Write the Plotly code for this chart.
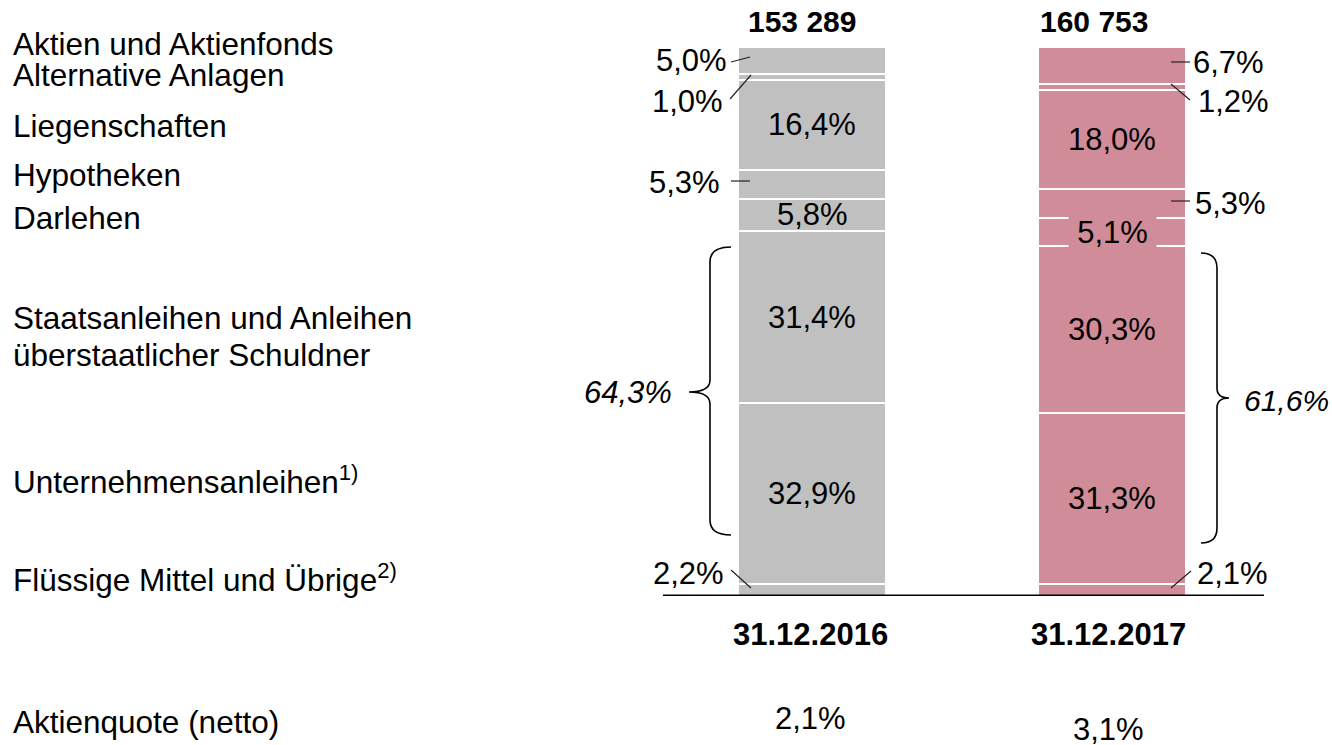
import plotly.graph_objects as go

# ---------------- data ----------------
categories = ["31.12.2016", "31.12.2017"]
segments = ["Flüssige Mittel und Übrige", "Unternehmensanleihen", "Staatsanleihen",
            "Darlehen", "Hypotheken", "Liegenschaften", "Alternative Anlagen",
            "Aktien und Aktienfonds"]
values_2016 = [2.2, 32.9, 31.4, 5.8, 5.3, 16.4, 1.0, 5.0]
values_2017 = [2.1, 31.3, 30.3, 5.1, 5.3, 18.0, 1.2, 6.7]
totals = ["153 289", "160 753"]
bond_share = ["64,3%", "61,6%"]
aktienquote = ["2,1%", "3,1%"]
left_labels = ["Aktien und Aktienfonds", "Alternative Anlagen", "Liegenschaften",
               "Hypotheken", "Darlehen", "Staatsanleihen und Anleihen",
               "überstaatlicher Schuldner", "Unternehmensanleihen<sup>1)</sup>",
               "Flüssige Mittel und Übrige<sup>2)</sup>", "Aktienquote (netto)"]

# ---------------- style ----------------
W, H = 1332, 745
GRAY = "#C0C0C0"
PINK = "#D08C99"
FONT = "Liberation Sans, Arial, sans-serif"
FS = 31
inside = [False, True, True, True, False, True, False, False]


def X(px):
    return px / W


def Y(py):
    return 1 - py / H


def fmt(v):
    return f"{v:.1f}".replace(".", ",") + "%"


fig = go.Figure()
for i, name in enumerate(segments):
    fig.add_trace(go.Bar(
        x=categories, y=[values_2016[i], values_2017[i]], name=name,
        marker=dict(color=[GRAY, PINK], line=dict(color="white", width=2)),
        showlegend=False, hoverinfo="skip"))

ann = []
shapes = []


def txt(x, y, text, size=FS, xanchor="center", xref="paper", yref="paper", **kw):
    d = dict(x=x, y=y, xref=xref, yref=yref, text=text, xanchor=xanchor, yanchor="middle",
             showarrow=False, font=dict(size=size, color="black", family=FONT))
    d.update(kw)
    ann.append(d)


# inside labels (centered in segment)
for vals, cat, col in [(values_2016, categories[0], GRAY), (values_2017, categories[1], PINK)]:
    base = 0
    for i, v in enumerate(vals):
        if inside[i]:
            extra = dict(bgcolor=col, width=85, height=32) if v < 5.5 else {}
            txt(cat, base + v / 2, fmt(v), xref="x", yref="y", **extra)
        base += v

# outside labels with leader lines: segment index -> (text pixel pos, line px)
outside_2016 = {7: ((729, 61), ((731, 62), (750, 57))),
                6: ((725, 101), ((730, 99), (751, 75))),
                4: ((722, 182), ((731, 181), (750, 181))),
                0: ((726, 573), ((731, 570), (751, 588)))}
outside_2017 = {7: ((1191, 62), ((1171, 62), (1190, 62))),
                6: ((1196, 102), ((1171, 84), (1190, 100))),
                4: ((1193, 203), ((1171, 201), (1190, 201))),
                0: ((1195, 573), ((1191, 571), (1171, 588)))}
for vals, table, xanchor in [(values_2016, outside_2016, "right"), (values_2017, outside_2017, "left")]:
    for i, ((tx, ty), ((x0, y0), (x1, y1))) in table.items():
        txt(X(tx), Y(ty), fmt(vals[i]), xanchor=xanchor)
        shapes.append(dict(type="line", xref="paper", yref="paper",
                           x0=X(x0), y0=Y(y0), x1=X(x1), y1=Y(y1),
                           line=dict(color="#222222", width=1.2)))

# totals on top
for t, cx in zip(totals, [802, 1094]):
    txt(X(cx), Y(21), f"<b>{t}</b>", size=30)

# category labels below
for c, cx in zip(categories, [810, 1108]):
    txt(X(cx), Y(634), f"<b>{c}</b>")

# Aktienquote values
for q, (cx, cy) in zip(aktienquote, [(810, 718), (1108, 729)]):
    txt(X(cx), Y(cy), q)

# left labels
left_y = [44, 75, 126, 175, 218, 318, 355, 480, 578, 722]
for t, ly in zip(left_labels, left_y):
    txt(X(11), Y(ly), t, size=31.5, xanchor="left")

# bond share labels (italic)
txt(X(674), Y(392), f"<i>{bond_share[0]}</i>", xanchor="right")
txt(X(1242), Y(400), f"<i>{bond_share[1]}</i>", size=30, xanchor="left")


def P(x, y):
    return f"{X(x):.5f},{Y(y):.5f}"


# braces
left_brace = (f"M {P(731,247)} Q {P(710,247)} {P(710,262)} L {P(710,380)} "
              f"Q {P(710,392)} {P(689,392)} Q {P(710,392)} {P(710,404)} "
              f"L {P(710,520)} Q {P(710,535)} {P(731,535)}")
right_brace = (f"M {P(1201,253)} Q {P(1217,253)} {P(1217,268)} L {P(1217,388)} "
               f"Q {P(1217,398)} {P(1229,398)} Q {P(1217,398)} {P(1217,408)} "
               f"L {P(1217,528)} Q {P(1217,543)} {P(1201,543)}")
for path in (left_brace, right_brace):
    shapes.append(dict(type="path", xref="paper", yref="paper", path=path,
                       line=dict(color="black", width=1.6)))

# baseline
shapes.append(dict(type="line", xref="paper", yref="y", x0=X(663), x1=X(1264), y0=0, y1=0,
                   line=dict(color="black", width=3)))

fig.update_layout(
    width=W, height=H, barmode="stack", bargap=0.507,
    margin=dict(l=0, r=0, t=0, b=0),
    paper_bgcolor="white", plot_bgcolor="white",
    xaxis=dict(domain=[X(662), X(1262)], range=[-0.5, 1.5], visible=False, fixedrange=True),
    yaxis=dict(domain=[Y(596), Y(47)], range=[0, 100], visible=False, fixedrange=True),
    annotations=ann, shapes=shapes, showlegend=False,
    font=dict(family=FONT),
)

fig.write_html("out.html", config={"displayModeBar": False},
               post_script="document.body.style.margin='0px';document.body.style.overflow='hidden';")
